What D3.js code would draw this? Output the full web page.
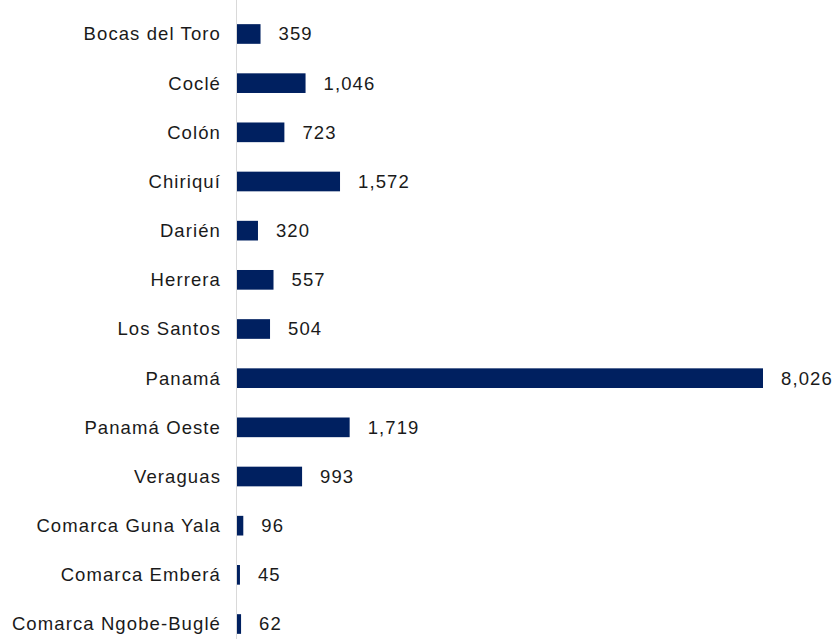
<!DOCTYPE html>
<html>
<head>
<meta charset="utf-8">
<script src="https://cdn.jsdelivr.net/npm/d3@7"></script>
<style>
  body { margin: 0; background: #fff; }
  text { font-family: Arial, "Liberation Sans", sans-serif; fill: #1a1a1a; letter-spacing: 1.1px; }
</style>
</head>
<body>
<div id="chart"></div>
<script>
var provinces = ["Bocas del Toro", "Coclé", "Colón", "Chiriquí", "Darién", "Herrera",
    "Los Santos", "Panamá", "Panamá Oeste", "Veraguas", "Comarca Guna Yala",
    "Comarca Emberá", "Comarca Ngobe-Buglé"]
var values = [359, 1046, 723, 1572, 320, 557, 504, 8026, 1719, 993, 96, 45, 62]

var width = 838, height = 639

var svg = d3.select("#chart").append("svg")
    .attr("width", width)
    .attr("height", height)

var x = d3.scaleLinear()
    .domain([0, 8026])
    .range([237, 763])

var y = d3.scaleBand()
    .domain(provinces)
    .range([9.4, 648.6])
    .paddingInner(0.6)
    .paddingOuter(0.3)

var data = provinces.map(function (p, i) {
    return {name: p, value: values[i]}
})

// bars
svg.selectAll(".bar")
    .data(data)
    .enter().append("rect")
    .attr("class", "bar")
    .attr("x", x(0))
    .attr("y", function (d) { return y(d.name) })
    .attr("width", function (d) { return x(d.value) - x(0) })
    .attr("height", y.bandwidth())
    .style("fill", "#002060")

// axis line
svg.append("line")
    .attr("x1", x(0) - 0.5).attr("x2", x(0) - 0.5)
    .attr("y1", 0).attr("y2", height)
    .style("stroke", "#d9d9d9")
    .style("stroke-width", 1)

// category labels
svg.selectAll(".cat")
    .data(data)
    .enter().append("text")
    .attr("class", "cat")
    .attr("x", x(0) - 16)
    .attr("y", function (d) { return y(d.name) + y.bandwidth() / 2 })
    .attr("dy", "0.35em")
    .attr("text-anchor", "end")
    .style("font-size", "18.5px")
    .text(function (d) { return d.name })

// value labels
svg.selectAll(".val")
    .data(data)
    .enter().append("text")
    .attr("class", "val")
    .attr("x", function (d) { return x(d.value) + 18 })
    .attr("y", function (d) { return y(d.name) + y.bandwidth() / 2 })
    .attr("dy", "0.35em")
    .style("font-size", "18.5px")
    .text(function (d) { return d3.format(",")(d.value) })
</script>
</body>
</html>
